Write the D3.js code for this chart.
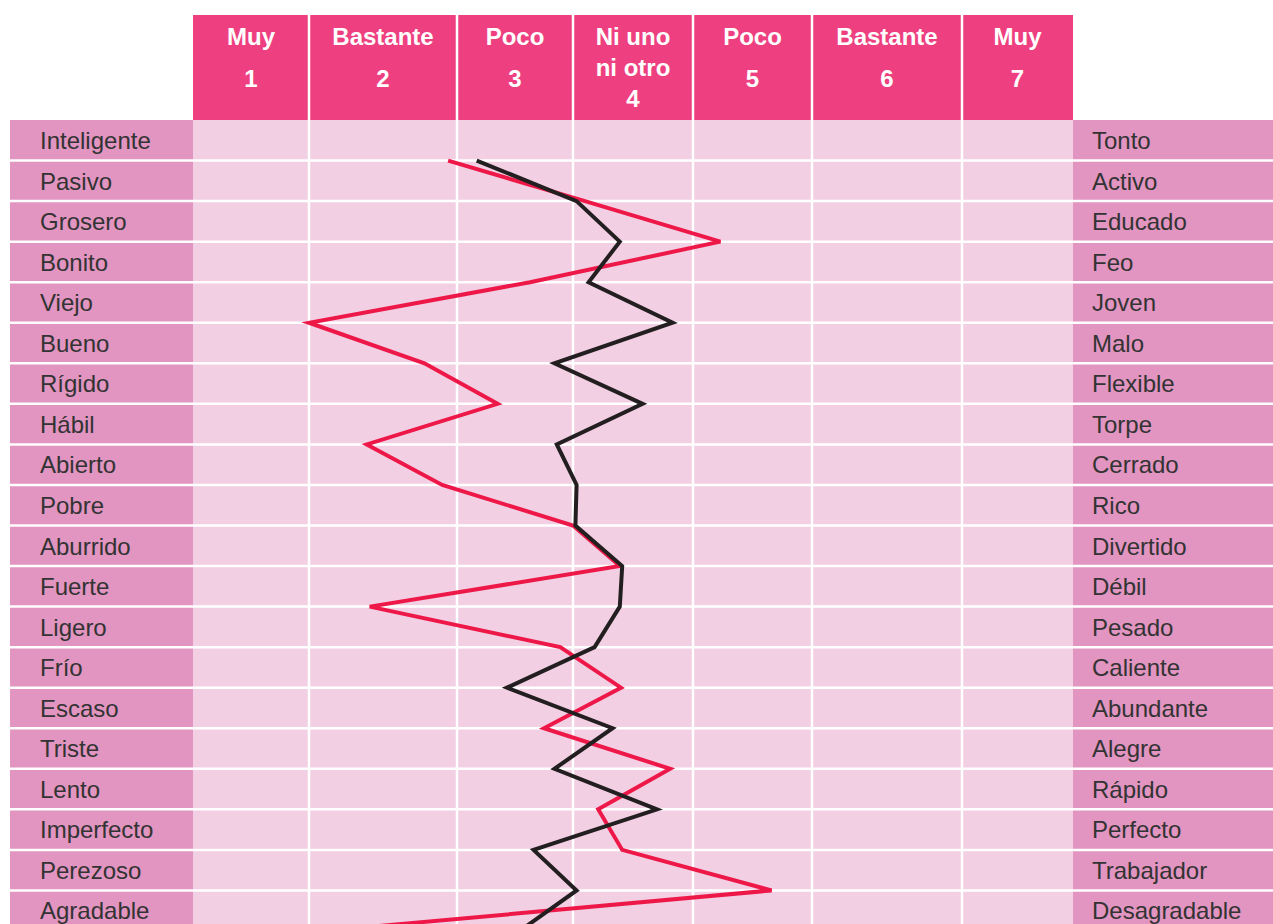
<!DOCTYPE html>
<html>
<head>
<meta charset="utf-8">
<script src="https://cdn.jsdelivr.net/npm/d3@7"></script>
<style>
  body { margin: 0; background: #fff; }
  svg { display: block; font-family: "Liberation Sans", Arial, sans-serif; }
</style>
</head>
<body>
<div id="chart"></div>
<script>
// data
var scaleWords = [["Muy"], ["Bastante"], ["Poco"], ["Ni uno", "ni otro"], ["Poco"], ["Bastante"], ["Muy"]];
var scaleNumbers = ["1", "2", "3", "4", "5", "6", "7"];
var leftLabels = ["Inteligente", "Pasivo", "Grosero", "Bonito", "Viejo", "Bueno", "Rígido", "Hábil",
  "Abierto", "Pobre", "Aburrido", "Fuerte", "Ligero", "Frío", "Escaso", "Triste", "Lento",
  "Imperfecto", "Perezoso", "Agradable"];
var rightLabels = ["Tonto", "Activo", "Educado", "Feo", "Joven", "Malo", "Flexible", "Torpe",
  "Cerrado", "Rico", "Divertido", "Débil", "Pesado", "Caliente", "Abundante", "Alegre", "Rápido",
  "Perfecto", "Trabajador", "Desagradable"];
var redValues = [2.44, 3.6, 4.73, 3.13, 1.5, 2.28, 2.85, 1.89, 2.4, 3.5, 3.89, 1.91, 3.39, 3.9,
  3.25, 4.31, 3.71, 3.91, 5.16, 1.6];
var blackValues = [2.67, 3.53, 3.89, 3.63, 4.33, 3.34, 4.08, 3.36, 3.53, 3.52, 3.91, 3.89, 3.68,
  2.93, 3.83, 3.34, 4.2, 3.16, 3.53, 3.04];

// layout
var svgWidth = 1273;
var svgHeight = 924;
var headerTop = 15, bodyTop = 120, rowH = 40.55;
var leftX = 10, gridX = 193, rightEnd = 1273;
var colWidths = [116, 148, 116, 120, 119, 150, 111];

var edges = [gridX];
colWidths.forEach(function (w) { edges.push(edges[edges.length - 1] + w); });
var gridEnd = edges[edges.length - 1];

var svg = d3.select("#chart")
  .append("svg")
  .attr("width", svgWidth)
  .attr("height", svgHeight);

// value -> x, piecewise over the uneven columns
var x = d3.scaleLinear()
  .domain(d3.range(0.5, 8, 1))
  .range(edges);

var y = d3.scaleBand()
  .domain(leftLabels)
  .range([bodyTop, bodyTop + rowH * leftLabels.length]);

// header cells
svg.append("rect")
  .attr("x", gridX).attr("y", headerTop)
  .attr("width", gridEnd - gridX).attr("height", bodyTop - headerTop)
  .attr("fill", "#ee4080");

var head = svg.append("g").attr("fill", "#fff")
  .attr("font-weight", "bold").attr("font-size", 24).attr("text-anchor", "middle");

scaleWords.forEach(function (words, i) {
  var cx = x(i + 1);
  words.forEach(function (w, j) {
    head.append("text").attr("x", cx).attr("y", 45 + j * 31).text(w);
  });
  head.append("text")
    .attr("x", cx)
    .attr("y", words.length > 1 ? 107 : 87)
    .text(scaleNumbers[i]);
});

// body rows
var rows = svg.append("g");
leftLabels.forEach(function (lab, i) {
  var top = y(lab);
  rows.append("rect").attr("x", leftX).attr("y", top)
    .attr("width", gridX - leftX).attr("height", y.bandwidth()).attr("fill", "#e195c0");
  rows.append("rect").attr("x", gridX).attr("y", top)
    .attr("width", gridEnd - gridX).attr("height", y.bandwidth()).attr("fill", "#f2cfe3");
  rows.append("rect").attr("x", gridEnd).attr("y", top)
    .attr("width", rightEnd - gridEnd).attr("height", y.bandwidth()).attr("fill", "#e195c0");
});

// white grid lines
var grid = svg.append("g").attr("stroke", "#fff").attr("stroke-width", 2.5);
edges.slice(1, -1).forEach(function (e) {
  grid.append("line").attr("x1", e).attr("x2", e)
    .attr("y1", headerTop).attr("y2", svgHeight);
});
leftLabels.forEach(function (lab) {
  var yy = y(lab) + y.bandwidth();
  grid.append("line").attr("x1", leftX).attr("x2", rightEnd)
    .attr("y1", yy).attr("y2", yy);
});

// labels
var labels = svg.append("g").attr("font-size", 24).attr("fill", "#333");
leftLabels.forEach(function (lab, i) {
  labels.append("text").attr("x", 40).attr("y", y(lab) + 29).text(lab);
  labels.append("text").attr("x", 1092).attr("y", y(lab) + 29).text(rightLabels[i]);
});

// profile lines
var line = d3.line()
  .x(function (d) { return x(d.v); })
  .y(function (d) { return y(d.label) + y.bandwidth(); });

function toPoints(vals) {
  return vals.map(function (v, i) { return { v: v, label: leftLabels[i] }; });
}

svg.append("path")
  .datum(toPoints(redValues))
  .attr("d", line)
  .attr("fill", "none")
  .attr("stroke", "#ee1848")
  .attr("stroke-width", 4);

svg.append("path")
  .datum(toPoints(blackValues))
  .attr("d", line)
  .attr("fill", "none")
  .attr("stroke", "#231f20")
  .attr("stroke-width", 4);
</script>
</body>
</html>
